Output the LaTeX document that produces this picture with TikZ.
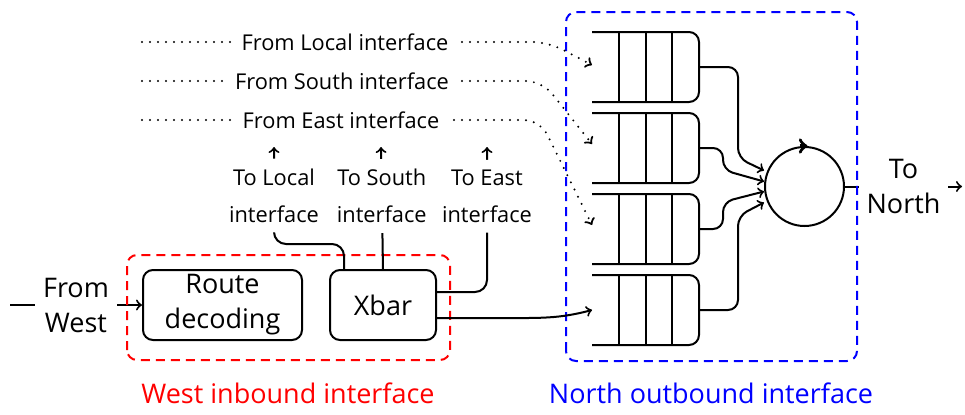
\documentclass[tikz,border=0pt]{standalone}
\usepackage{fontspec}
\setmainfont{Open Sans}
\usetikzlibrary{calc}
\usetikzlibrary{positioning}
\usetikzlibrary{arrows}

\begin{document}
\begin{tikzpicture}[x=0.5pt,y=0.5pt,>=to,line width=1pt,
	blk/.style={draw,rounded corners=5pt,minimum height=35pt,align=center,inner sep=2pt,font=\fontsize{13.5}{17.5}\selectfont},
	lbl/.style={fill=white,inner sep=5pt,align=center,font=\fontsize{10.9}{18.5}\selectfont},
	big/.style={fill=white,inner sep=4pt,align=center,font=\fontsize{13.5}{17.5}\selectfont},
	queue/.style={draw=none,minimum width=52.5pt,minimum height=34pt,inner sep=0pt},
	area/.style={dash pattern=on 4.5pt off 3pt,rounded corners=5pt},
	dotline/.style={line width=1.1pt,line cap=round,dash pattern=on 0pt off 4pt,rounded corners=8pt},
	]

	\useasboundingbox (0,0) rectangle (965,414);

	% west inbound interface
	\node[blk,minimum width=79.5pt] (route) at (222.5,109) {Route\\decoding};
	\node[blk,minimum width=53pt,right=13pt of route] (xbar) {Xbar};
	\coordinate (west) at (10,109);
	\draw[->] (west) -- node[big] {From\\West} (route);

	\draw[red,area] (127,54) rectangle (450,159);
	\node[red,anchor=base,font=\fontsize{13.5}{16}\selectfont] (win) at (288,11) {West inbound interface};

	% north outbound interface
	\node[queue] (q1) at (645.5,347) {};
	\node[queue,below=5.5pt of q1] (q2) {};
	\node[queue,below=5.5pt of q2] (q3) {};
	\node[queue,below=5.5pt of q3] (q4) {};
	\foreach \q in {q1,q2,q3,q4}{
		\draw[rounded corners=5pt] (\q.north west) -- (\q.north east) -- (\q.south east) -- (\q.south west);
		\foreach \f in {0.25,0.5,0.75}
			\draw ($(\q.north west)!\f!(\q.north east)$) -- ($(\q.south west)!\f!(\q.south east)$);
	}

	\node[draw,circle,minimum size=39.5pt,inner sep=0pt] (rr) at (804.5,227.5) {};
	\draw[->,line width=1.7pt] ([xshift=-2.5pt]rr.north) -- ([xshift=1.5pt]rr.north);

	\draw[->,rounded corners=5pt] (q1.east) -| (738,256) -- ([yshift=8pt]rr.west);
	\draw[->,rounded corners=5pt] (q2.east) -| (723,244) -- ([yshift=2.5pt]rr.west);
	\draw[->,rounded corners=5pt] (q3.east) -| (723,212) -- ([yshift=-2.5pt]rr.west);
	\draw[->,rounded corners=5pt] (q4.east) -| (738,198) -- ([yshift=-8pt]rr.west);

	\coordinate (north) at (962,227.5);
	\draw[->] (rr) -- node[big] {To\\North} (north);

	\draw[blue,area] (566,53) rectangle (857,402);
	\node[blue,anchor=base,font=\fontsize{13.5}{16}\selectfont] (nout) at (711,11) {North outbound interface};

	% xbar outputs
	\coordinate (tlocal) at (274,267);
	\coordinate (tsouth) at (381,267);
	\coordinate (teast) at (487,267);
	\draw[->,rounded corners=6pt] ([xshift=7.5pt]xbar.north west) |- (274,170) -- node[lbl] {To Local\\interface} (tlocal);
	\draw[->] (xbar.north) -- node[lbl,pos=0.6] {To South\\interface} (tsouth);
	\draw[->,rounded corners=6pt] ([yshift=6.5pt]xbar.east) -| node[lbl,pos=0.83] {To East\\interface} (teast);
	\draw[->] ([yshift=-6.5pt]xbar.east) -- (505,96) to[out=0,in=195] (q4.west);

	% from the other inbound interfaces
	\coordinate (flocal) at (142,372);
	\coordinate (fsouth) at (142,333);
	\coordinate (feast) at (142,294);
	\draw[->,dotline] (flocal) -- node[lbl] {From Local interface} (548,372) -- ([yshift=1pt]q1.west);
	\draw[->,dotline] (fsouth) -- node[lbl] {From South interface} (542,333) -- ([yshift=2pt]q2.west);
	\draw[->,dotline] (feast) -- node[lbl] {From East interface} (540,294) -- ([yshift=2pt]q3.west);

\end{tikzpicture}
\end{document}
